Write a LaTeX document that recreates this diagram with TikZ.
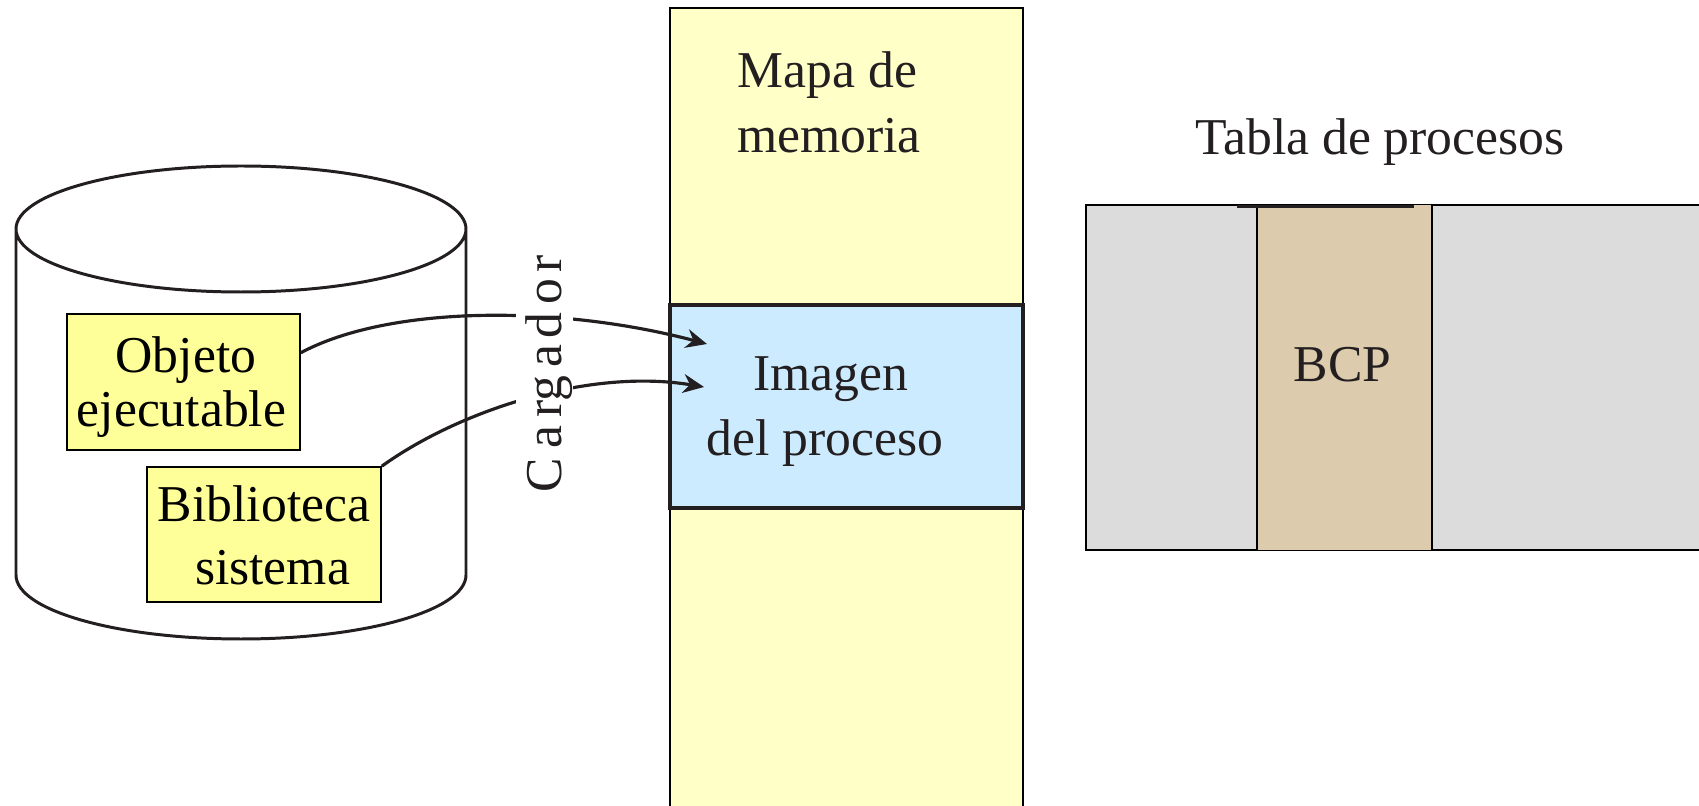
\documentclass[tikz,border=0pt]{standalone}
\usepackage{fontspec}
\setmainfont{Liberation Serif}
\usetikzlibrary{arrows.meta,positioning}
\definecolor{tinta}{HTML}{231F20}
\definecolor{amarillo}{HTML}{FFFFC8}
\definecolor{amarillofuerte}{HTML}{FFFF99}
\definecolor{azul}{HTML}{CCEBFF}
\definecolor{gris}{HTML}{DCDCDC}
\definecolor{tostado}{HTML}{DDCBAE}
\tikzset{
    banda/.style={
           rectangle,
           draw=black,
           line width=0.45pt,
           inner sep=0pt
           },
    caja/.style={
           rectangle,
           draw=black,
           fill=amarillofuerte,
           line width=0.45pt,
           inner sep=0pt
           },
    rotulo/.style={
           align=center,
           text=tinta,
           inner sep=0pt,
           font=\fontsize{14.7}{18.5}\selectfont
           },
    flecha/.style={
           ->,
           draw=tinta,
           line width=0.9pt
           }
}
\begin{document}
\begin{tikzpicture}[>={Stealth[length=2.1mm,width=1.9mm]}, on grid]
   \path[clip,use as bounding box] (0,0) rectangle (16.99,-8.06);

   \node[banda,fill=amarillo,minimum width=3.535cm,minimum height=8.22cm] (memoria) at (8.465,-4.19) {};
   \node[rotulo] (mapa) [above left=3.165cm and 0.19cm of memoria] {Mapa de\\\hspace*{0.03cm}memoria};
   \node[banda,fill=azul,draw=tinta,line width=1.1pt,minimum width=3.535cm,minimum height=2.03cm] (imagen) [above=0.125cm of memoria] {};
   \node[rotulo] (imagentxt) [below left=0.05cm and 0.215cm of imagen] {\hspace*{0.11cm}Imagen\\del proceso};

   \node[inner sep=0pt] (disco) [above left=0.165cm and 6.055cm of memoria] {};
   \draw[tinta,line width=0.85pt] ([shift={(-2.25,-1.725)}]disco.center) arc[start angle=180,end angle=360,x radius=2.25,y radius=0.64]
        -- ([shift={(2.25,1.735)}]disco.center) arc[start angle=0,end angle=360,x radius=2.25,y radius=0.63]
        ([shift={(-2.25,1.735)}]disco.center) -- ([shift={(-2.25,-1.725)}]disco.center);
   \node[caja,minimum width=2.33cm,minimum height=1.36cm] (objeto) [above left=0.205cm and 0.575cm of disco] {};
   \node[rotulo,text=black,font=\fontsize{14.7}{15.6}\selectfont] (objetotxt) [below left=0.05cm and 0.02cm of objeto] {\hspace*{0.09cm}Objeto\\ejecutable};
   \node[caja,minimum width=2.34cm,minimum height=1.35cm] (biblioteca) [below right=1.32cm and 0.23cm of disco] {};
   \node[rotulo,text=black,font=\fontsize{14.7}{18}\selectfont] (bibliotecatxt) [below=0.01cm of biblioteca] {Biblioteca\\\hspace*{0.17cm}sistema};

   \node[banda,fill=gris,minimum width=6.34cm,minimum height=3.45cm] (tabla) [above right=0.415cm and 5.565cm of memoria] {};
   \node[banda,fill=tostado,minimum width=1.75cm,minimum height=3.46cm] (bcp) [left=0.585cm of tabla] {};
   \node[rotulo] (bcptxt) [above left=0.13cm and 0.02cm of bcp] {BCP};
   \node[rotulo] (titulo) [above left=2.35cm and 0.23cm of tabla] {Tabla de procesos};
   \draw[tinta,line width=0.85pt] ([shift={(-0.19,-0.03)}]bcp.north west) -- ([shift={(-0.19,-0.03)}]bcp.north east);

   \coordinate[above left=0.625cm and 1.395cm of imagen] (punta1);
   \coordinate[above left=0.195cm and 1.425cm of imagen] (punta2);

   \draw[flecha] (objeto.14) .. controls (3.9,-3.05) and (5.6,-3.05) .. (punta1);
   \draw[flecha] (biblioteca.north east) .. controls (4.6,-4.1) and (5.9,-3.68) .. (punta2);

   \node[rotulo,rotate=90,fill=white,text height=0.453cm,text depth=0.117cm] (cargador) [above left=0.325cm and 3.02cm of imagen] {C\kern.2em a\kern.15em rg\kern.15em a\kern.12em d\kern.15em o\kern.13em r};
\end{tikzpicture}
\end{document}
